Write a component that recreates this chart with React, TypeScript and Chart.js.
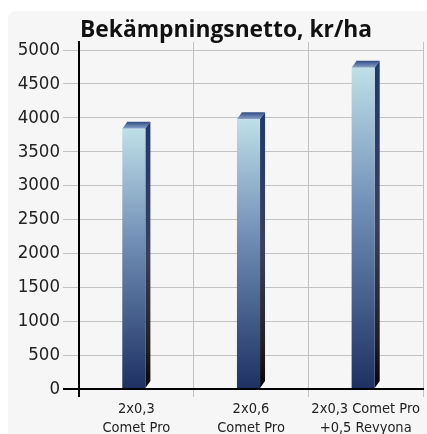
import React, { useEffect, useRef } from "react";
import { Chart, registerables } from "chart.js";

Chart.register(...registerables);

const TITLE = "Bekämpningsnetto, kr/ha";
const categories: string[][] = [
  ["2x0,3", "Comet Pro"],
  ["2x0,6", "Comet Pro"],
  ["2x0,3 Comet Pro", "+0,5 Revyona"],
];
const values: number[] = [3840, 3980, 4740];
const yTicks: number[] = [0, 500, 1000, 1500, 2000, 2500, 3000, 3500, 4000, 4500, 5000];

const COND = "'DejaVu Sans Condensed', 'Liberation Sans Narrow', sans-serif";
const DX = 5;
const DY = 7;

const panelPlugin = {
  id: "panel",
  beforeDraw(chart: any) {
    const ctx = chart.ctx;
    ctx.save();
    ctx.fillStyle = "#ffffff";
    ctx.fillRect(0, 0, chart.width, chart.height);
    ctx.fillStyle = "#f6f6f6";
    ctx.beginPath();
    (ctx as any).roundRect(8, 11, chart.width + 20, chart.height + 20, 8);
    ctx.fill();
    ctx.restore();
  },
  afterDraw(chart: any) {
    const ctx = chart.ctx;
    ctx.save();
    ctx.fillStyle = "#111111";
    ctx.font = "bold 22.8px 'Open Sans', Lato, sans-serif";
    ctx.textAlign = "left";
    ctx.textBaseline = "alphabetic";
    ctx.fillText(TITLE, 80, 37);
    ctx.restore();
  },
};

const bars3dPlugin = {
  id: "bars3d",
  afterDatasetsDraw(chart: any) {
    const ctx = chart.ctx;
    const meta = chart.getDatasetMeta(0);
    ctx.save();
    meta.data.forEach((el: any) => {
      const w = el.width;
      const fw = w - DX;
      const L = el.x - w / 2;
      const R = L + fw;
      const top = el.y;
      const base = el.base;

      const gt = ctx.createLinearGradient(0, top, 0, top - DY);
      gt.addColorStop(0, "#8aa3c8");
      gt.addColorStop(1, "#2e4a85");
      ctx.fillStyle = gt;
      ctx.beginPath();
      ctx.moveTo(L, top);
      ctx.lineTo(L + DX, top - DY);
      ctx.lineTo(R + DX, top - DY);
      ctx.lineTo(R, top);
      ctx.closePath();
      ctx.fill();

      const gs = ctx.createLinearGradient(0, top - DY, 0, base);
      gs.addColorStop(0, "#1f3872");
      gs.addColorStop(0.5, "#3b3f5c");
      gs.addColorStop(0.85, "#202020");
      gs.addColorStop(1, "#050505");
      ctx.fillStyle = gs;
      ctx.beginPath();
      ctx.moveTo(R, top);
      ctx.lineTo(R + DX, top - DY);
      ctx.lineTo(R + DX, base - DY);
      ctx.lineTo(R, base);
      ctx.closePath();
      ctx.fill();

      const gf = ctx.createLinearGradient(0, top, 0, base);
      gf.addColorStop(0, "#bfdfe8");
      gf.addColorStop(0.45, "#6e8cb4");
      gf.addColorStop(1, "#1e3163");
      ctx.fillStyle = gf;
      ctx.fillRect(L, top, fw, base - top);
    });
    ctx.restore();
  },
};

export default function App() {
  const ref = useRef<HTMLCanvasElement | null>(null);
  useEffect(() => {
    if (!ref.current) return;
    const chart = new Chart(ref.current, {
      type: "bar",
      data: {
        labels: categories,
        datasets: [
          {
            data: values,
            backgroundColor: "rgba(0,0,0,0)",
            borderWidth: 0,
            barPercentage: 0.245,
            categoryPercentage: 1,
          },
        ],
      },
      options: {
        animation: false,
        responsive: true,
        maintainAspectRatio: false,
        layout: { padding: { top: 42, right: 4, left: 0, bottom: 0 } },
        plugins: {
          legend: { display: false },
          title: { display: false },
          tooltip: { enabled: false },
        },
        scales: {
          x: {
            offset: true,
            grid: {
              offset: true,
              tickLength: 8,
              color: (c: any) => (c.index === 0 ? "#000000" : "#c2c2c2"),
              lineWidth: (c: any) => (c.index === 0 ? 2 : 1),
            },
            border: { display: true, color: "#000000", width: 2 },
            ticks: {
              color: "#222222",
              padding: 3,
              maxRotation: 0,
              autoSkip: false,
              font: { family: COND, size: 14.5, lineHeight: 1.3 },
            },
            afterFit: (s: any) => {
              s.height = 45;
            },
          },
          y: {
            min: 0,
            max: 5118,
            afterBuildTicks: (s: any) => {
              s.ticks = yTicks.map((v) => ({ value: v }));
            },
            grid: {
              tickLength: 16,
              color: (c: any) => (c.tick && c.tick.value === 0 ? "#000000" : "#c2c2c2"),
              lineWidth: (c: any) => (c.tick && c.tick.value === 0 ? 2 : 1),
            },
            border: { display: true, color: "#000000", width: 2 },
            ticks: {
              color: "#222222",
              padding: 3,
              font: { family: COND, size: 18.5 },
              callback: (v: any) => String(v),
            },
            afterFit: (s: any) => {
              s.width = 79;
            },
          },
        },
      },
      plugins: [panelPlugin, bars3dPlugin],
    });
    return () => chart.destroy();
  }, []);
  return (
    <div style={{ position: "fixed", left: 0, top: 0, width: 427, height: 434 }}>
      <canvas ref={ref} />
    </div>
  );
}
